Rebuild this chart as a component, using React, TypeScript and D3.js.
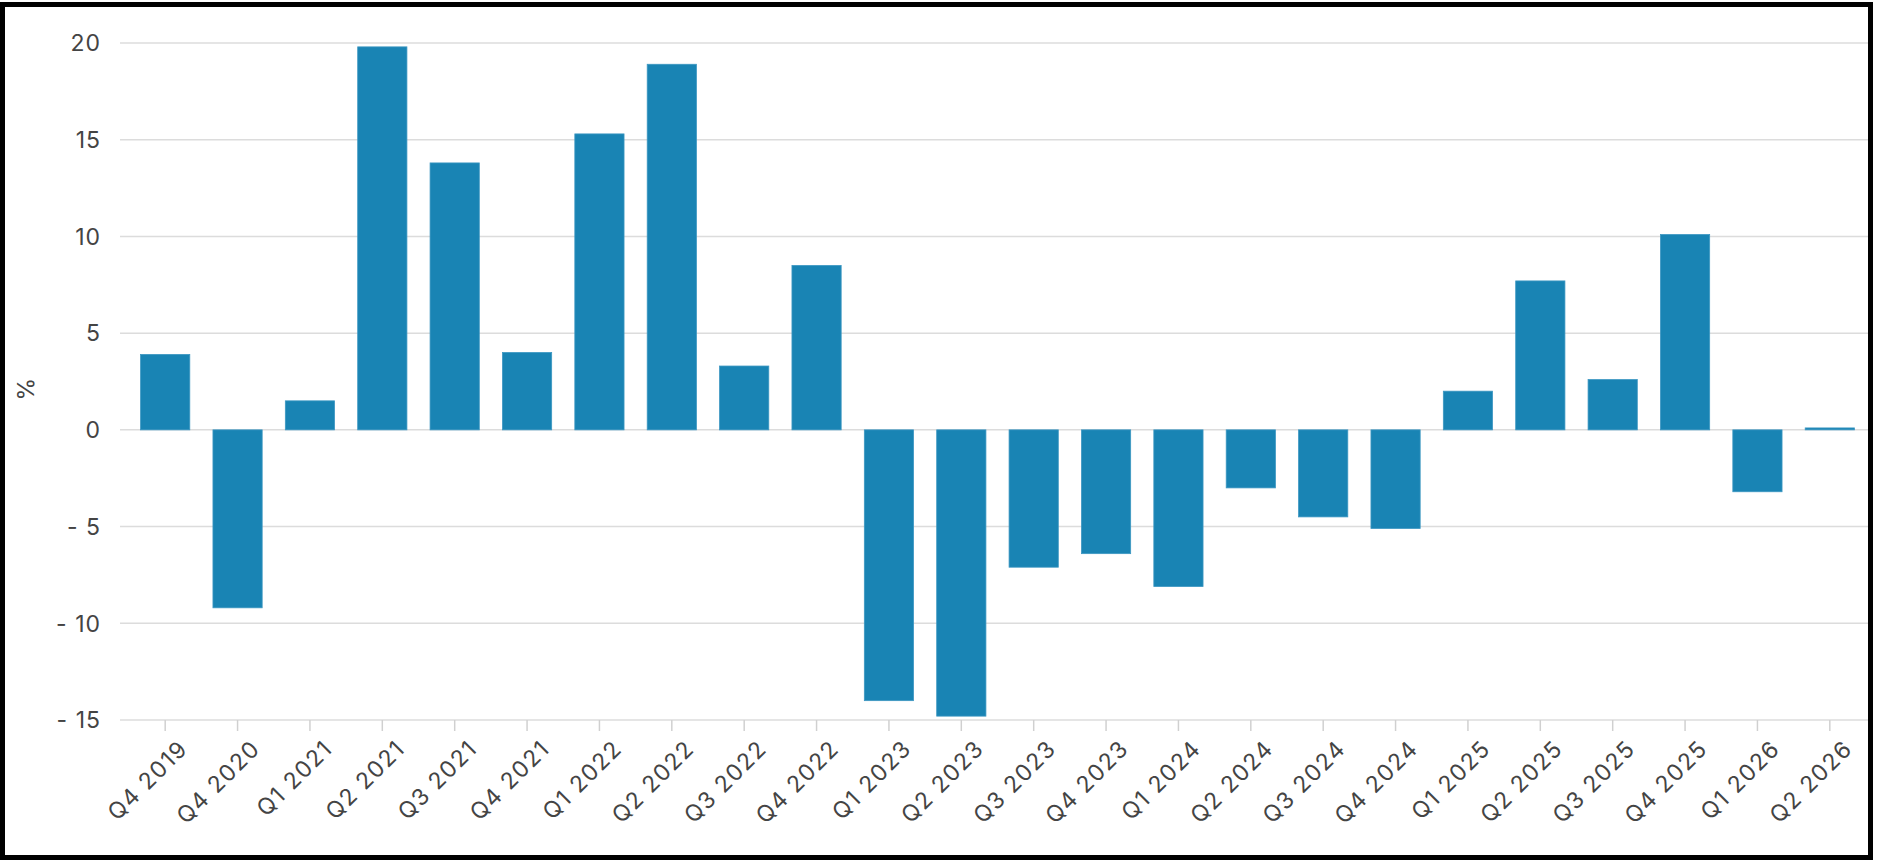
import React, { useEffect, useRef } from "react";
import * as d3 from "d3";

// quarters on the x axis
const quarters = [
  "Q4 2019", "Q4 2020", "Q1 2021", "Q2 2021", "Q3 2021", "Q4 2021",
  "Q1 2022", "Q2 2022", "Q3 2022", "Q4 2022", "Q1 2023", "Q2 2023",
  "Q3 2023", "Q4 2023", "Q1 2024", "Q2 2024", "Q3 2024", "Q4 2024",
  "Q1 2025", "Q2 2025", "Q3 2025", "Q4 2025", "Q1 2026", "Q2 2026",
];

// % change per quarter
const values = [
  3.9, -9.2, 1.5, 19.8, 13.8, 4.0,
  15.3, 18.9, 3.3, 8.5, -14.0, -14.8,
  -7.1, -6.4, -8.1, -3.0, -4.5, -5.1,
  2.0, 7.7, 2.6, 10.1, -3.2, 0.1,
];

const yTicks = [-15, -10, -5, 0, 5, 10, 15, 20];

export default function App() {
  const ref = useRef(null);

  useEffect(() => {
    document.body.style.margin = "0";
    const width = 1877;
    const height = 866;
    const font = "Inter, 'Open Sans', sans-serif";
    const textColor = "#444";

    const svg = d3.select(ref.current);
    svg.selectAll("*").remove();
    svg.attr("width", width).attr("height", height).style("display", "block");

    svg.append("rect").attr("width", width).attr("height", height).attr("fill", "#fff");

    // band centers land on the tick marks (165 ... 1830)
    const x = d3.scaleBand().domain(quarters).range([129, 1866]).paddingInner(0.32).paddingOuter(0.16);
    const y = d3.scaleLinear().domain([-15, 20]).range([720, 43]);

    // gridlines
    svg
      .append("g")
      .selectAll("line")
      .data(yTicks)
      .join("line")
      .attr("x1", 120)
      .attr("x2", 1870)
      .attr("y1", (d) => y(d))
      .attr("y2", (d) => y(d))
      .attr("stroke", "#dcdcdc")
      .attr("stroke-width", 1.5);

    // y labels
    svg
      .append("g")
      .selectAll("text")
      .data(yTicks)
      .join("text")
      .attr("x", 101)
      .attr("y", (d) => y(d))
      .attr("dy", "0.36em")
      .attr("text-anchor", "end")
      .attr("font-family", font)
      .attr("font-size", 23)
      .attr("letter-spacing", 1)
      .attr("fill", textColor)
      .text((d) => (d < 0 ? "- " + Math.abs(d) : d));

    svg
      .append("text")
      .attr("transform", `translate(26,${y(2.1)}) rotate(-90)`)
      .attr("text-anchor", "middle")
      .attr("dy", "0.35em")
      .attr("font-family", font)
      .attr("font-size", 23)
      .attr("fill", textColor)
      .text("%");

    // bars
    svg
      .append("g")
      .selectAll("rect")
      .data(values)
      .join("rect")
      .attr("x", (d, i) => x(quarters[i]))
      .attr("width", x.bandwidth())
      .attr("y", (d) => y(Math.max(0, d)))
      .attr("height", (d) => Math.abs(y(d) - y(0)))
      .attr("fill", "#1984b4")
      .attr("stroke", "#3c97c2")
      .attr("stroke-width", 0.8);

    // x ticks and labels
    const xg = svg
      .append("g")
      .selectAll("g")
      .data(quarters)
      .join("g")
      .attr("transform", (d) => `translate(${x(d) + x.bandwidth() / 2},${y(-15)})`);

    xg.append("line").attr("y2", 11).attr("stroke", "#d0d0d0").attr("stroke-width", 1.5);

    xg.append("text")
      .attr("transform", "translate(24,30) rotate(-45)")
      .attr("text-anchor", "end")
      .attr("font-family", font)
      .attr("font-size", 23)
      .attr("letter-spacing", 1.5)
      .attr("fill", textColor)
      .text((d) => d);

    // frame
    svg
      .append("rect")
      .attr("x", 2.5)
      .attr("y", 4.5)
      .attr("width", 1868)
      .attr("height", 853)
      .attr("fill", "none")
      .attr("stroke", "#000")
      .attr("stroke-width", 5);
  }, []);

  return <svg ref={ref} />;
}
